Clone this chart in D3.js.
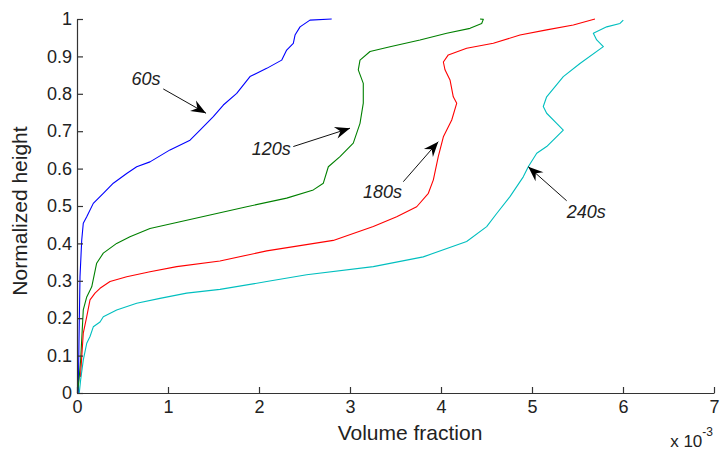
<!DOCTYPE html>
<html>
<head>
<meta charset="utf-8">
<script src="https://cdn.jsdelivr.net/npm/d3@7"></script>
<style>
  body { margin: 0; background: #fff; }
  text { font-family: "Liberation Sans", Arial, sans-serif; }
</style>
</head>
<body>
<div id="chart-area"></div>
<script>
// volume fraction is plotted in units of 1e-3
const xTicks = [0, 1, 2, 3, 4, 5, 6, 7]
const yTicks = [0, 0.1, 0.2, 0.3, 0.4, 0.5, 0.6, 0.7, 0.8, 0.9, 1]

const x60 = [0.014, 0.022, 0.033, 0.052, 0.069, 0.107, 0.179, 0.289, 0.399, 0.546, 0.656, 0.802, 1.022, 1.242, 1.352, 1.498, 1.608, 1.755, 1.901, 2.085, 2.249, 2.304, 2.377, 2.396, 2.451, 2.560, 2.799]
const y60 = [0, 0.142, 0.311, 0.409, 0.454, 0.471, 0.507, 0.534, 0.561, 0.587, 0.605, 0.618, 0.650, 0.676, 0.703, 0.739, 0.770, 0.801, 0.846, 0.868, 0.890, 0.917, 0.935, 0.957, 0.979, 0.997, 1.0]

const x120 = [0.005, 0.022, 0.040, 0.069, 0.107, 0.162, 0.216, 0.289, 0.436, 0.582, 0.802, 1.132, 1.462, 1.865, 2.304, 2.597, 2.707, 2.762, 2.890, 3.036, 3.110, 3.146, 3.146, 3.091, 3.110, 3.220, 3.440, 3.769, 4.063, 4.319, 4.447, 4.465, 4.429]
const y120 = [0, 0.035, 0.088, 0.222, 0.257, 0.284, 0.347, 0.374, 0.400, 0.418, 0.440, 0.458, 0.476, 0.498, 0.521, 0.543, 0.561, 0.605, 0.632, 0.668, 0.721, 0.775, 0.828, 0.864, 0.890, 0.913, 0.926, 0.944, 0.962, 0.975, 0.988, 0.999, 1.0]

const x180 = [0.038, 0.069, 0.107, 0.143, 0.198, 0.253, 0.363, 0.546, 0.802, 1.096, 1.571, 2.085, 2.816, 3.256, 3.513, 3.733, 3.861, 3.916, 3.970, 4.026, 4.118, 4.173, 4.135, 4.099, 4.044, 4.026, 4.080, 4.282, 4.575, 4.868, 5.161, 5.454, 5.692]
const y180 = [0.043, 0.160, 0.204, 0.249, 0.267, 0.280, 0.298, 0.311, 0.324, 0.338, 0.353, 0.380, 0.408, 0.445, 0.471, 0.498, 0.534, 0.570, 0.632, 0.685, 0.730, 0.775, 0.792, 0.837, 0.864, 0.885, 0.904, 0.922, 0.935, 0.957, 0.971, 0.984, 1.0]

const x240 = [0.025, 0.040, 0.069, 0.107, 0.143, 0.179, 0.253, 0.289, 0.436, 0.656, 0.912, 1.205, 1.571, 2.085, 2.524, 3.256, 3.805, 4.282, 4.502, 4.612, 4.758, 4.904, 4.959, 5.052, 5.161, 5.344, 5.271, 5.161, 5.124, 5.161, 5.344, 5.527, 5.784, 5.711, 5.674, 5.821, 5.967, 6.003]
const y240 = [0, 0.035, 0.088, 0.133, 0.151, 0.177, 0.190, 0.204, 0.222, 0.240, 0.253, 0.267, 0.277, 0.298, 0.316, 0.338, 0.364, 0.405, 0.445, 0.480, 0.525, 0.578, 0.605, 0.641, 0.659, 0.703, 0.721, 0.748, 0.766, 0.792, 0.846, 0.881, 0.926, 0.944, 0.962, 0.979, 0.988, 0.997]

const seriesNames = ["60s", "120s", "180s", "240s"]
const seriesX = [x60, x120, x180, x240]
const seriesY = [y60, y120, y180, y240]
const seriesColors = ["#0000ff", "#008000", "#ff0000", "#00bfbf"]

// annotation label position and arrow (tail -> head), in data units
const labelX = [0.60, 1.92, 3.143, 5.381]
const labelY = [0.824, 0.636, 0.521, 0.468]
const arrowFrom = [[0.948, 0.813], [2.377, 0.659], [3.586, 0.565], [5.381, 0.514]]
const arrowTo = [[1.418, 0.748], [3.0, 0.708], [3.97, 0.672], [4.959, 0.605]]

const WIDTH = 720
const HEIGHT = 451
const PLOT = {LEFT: 77, RIGHT: 714, TOP: 19, BOTTOM: 393}

const svg = d3.select("#chart-area").append("svg")
	.attr("width", WIDTH)
	.attr("height", HEIGHT)

const x = d3.scaleLinear()
	.domain([0, 7])
	.range([PLOT.LEFT, PLOT.RIGHT])

const y = d3.scaleLinear()
	.domain([0, 1])
	.range([PLOT.BOTTOM, PLOT.TOP])

const xAxisCall = d3.axisBottom(x)
	.tickValues(xTicks)
	.tickFormat(d3.format("d"))
	.tickSizeInner(-6)
	.tickSizeOuter(0)
	.tickPadding(7)

const yAxisCall = d3.axisLeft(y)
	.tickValues(yTicks)
	.tickFormat(d => d === 0 || d === 1 ? String(d) : d3.format(".1f")(d))
	.tickSizeInner(-6)
	.tickSizeOuter(0)
	.tickPadding(5)

const line = d3.line()
	.x(d => x(d[0]))
	.y(d => y(d[1]))

seriesNames.forEach((name, i) => {
	const pts = seriesX[i].map((v, j) => [v, seriesY[i][j]])
	svg.append("path")
		.attr("class", "series")
		.attr("d", line(pts))
		.attr("fill", "none")
		.attr("stroke", seriesColors[i])
		.attr("stroke-width", 1.1)
		.attr("stroke-linejoin", "round")
})

const xAxisGroup = svg.append("g")
	.attr("transform", `translate(0,${PLOT.BOTTOM})`)
	.call(xAxisCall)

const yAxisGroup = svg.append("g")
	.attr("transform", `translate(${PLOT.LEFT},0)`)
	.call(yAxisCall)

svg.selectAll(".domain, .tick line")
	.attr("stroke", "#333")
	.attr("stroke-width", 1.2)

svg.selectAll(".tick text")
	.attr("font-size", "18px")
	.attr("font-family", "Liberation Sans, Arial, sans-serif")
	.attr("fill", "#222")

// axis labels
svg.append("text")
	.attr("x", 410)
	.attr("y", 440)
	.attr("text-anchor", "middle")
	.attr("font-size", "21px")
	.attr("fill", "#222")
	.text("Volume fraction")

svg.append("text")
	.attr("transform", "translate(27,211) rotate(-90)")
	.attr("text-anchor", "middle")
	.attr("font-size", "21px")
	.attr("fill", "#222")
	.text("Normalized height")

const expo = svg.append("text")
	.attr("x", 713)
	.attr("y", 447)
	.attr("text-anchor", "end")
	.attr("font-size", "17px")
	.attr("fill", "#222")
expo.append("tspan").text("x 10")
expo.append("tspan")
	.attr("font-size", "12px")
	.attr("dy", "-11")
	.text("-3")

// annotations
function arrowHead(x0, y0, x1, y1) {
	const ang = Math.atan2(y1 - y0, x1 - x0)
	const len = 15, half = 6, back = 10
	const ux = Math.cos(ang), uy = Math.sin(ang)
	const px = -uy, py = ux
	const bx = x1 - ux * len, by = y1 - uy * len
	const mx = x1 - ux * back, my = y1 - uy * back
	return `M${x1},${y1}L${bx + px * half},${by + py * half}L${mx},${my}L${bx - px * half},${by - py * half}Z`
}

seriesNames.forEach((name, i) => {
	svg.append("text")
		.attr("x", x(labelX[i]))
		.attr("y", y(labelY[i]))
		.attr("font-size", "18px")
		.attr("font-style", "italic")
		.attr("fill", "#222")
		.text(name)

	const x0 = x(arrowFrom[i][0]), y0 = y(arrowFrom[i][1])
	const x1 = x(arrowTo[i][0]), y1 = y(arrowTo[i][1])
	svg.append("line")
		.attr("x1", x0).attr("y1", y0)
		.attr("x2", x1).attr("y2", y1)
		.attr("stroke", "#111")
		.attr("stroke-width", 1)
	svg.append("path")
		.attr("d", arrowHead(x0, y0, x1, y1))
		.attr("fill", "#000")
})
</script>
</body>
</html>
